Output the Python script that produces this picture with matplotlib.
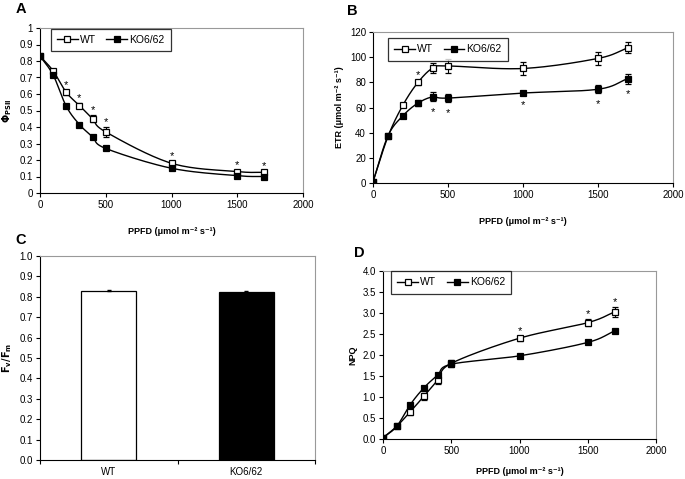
import numpy as np
import matplotlib
matplotlib.use("Agg")
import matplotlib.pyplot as plt

plt.rcParams['font.family'] = ['Liberation Sans', 'DejaVu Sans']

ppfd = [0, 100, 200, 300, 400, 500, 1000, 1500, 1700]

phi_wt = [0.83, 0.74, 0.61, 0.53, 0.45, 0.37, 0.18, 0.13, 0.125]
phi_wt_err = [0.01, 0.01, 0.015, 0.015, 0.02, 0.03, 0.015, 0.01, 0.01]
phi_ko = [0.83, 0.715, 0.525, 0.415, 0.34, 0.27, 0.15, 0.105, 0.10]
phi_ko_err = [0.01, 0.01, 0.01, 0.01, 0.01, 0.01, 0.01, 0.008, 0.008]
phi_star_wt = [200, 300, 400, 500, 1000, 1500, 1700]

etr_wt = [1, 37, 62, 80, 91.5, 93, 91, 99, 107.5]
etr_wt_err = [0.5, 1.5, 1.5, 2, 4, 5.5, 5.5, 5.5, 4.5]
etr_ko = [1, 37.5, 53.5, 63.5, 68.5, 67.5, 71.5, 74.5, 83]
etr_ko_err = [0.5, 1.5, 1.5, 2.5, 3.5, 3.5, 1.5, 3, 4]
etr_star_wt = [300]
etr_star_ko = [400, 500, 1000, 1500, 1700]

fvfm_labels = ['WT', 'KO6/62']
fvfm_values = [0.83, 0.825]
fvfm_err = [0.002, 0.002]

npq_wt = [0.03, 0.3, 0.65, 1.02, 1.4, 1.8, 2.4, 2.77, 3.03]
npq_wt_err = [0.02, 0.03, 0.08, 0.08, 0.1, 0.08, 0.06, 0.08, 0.12]
npq_ko = [0.03, 0.3, 0.82, 1.22, 1.52, 1.78, 1.98, 2.3, 2.58]
npq_ko_err = [0.02, 0.03, 0.04, 0.04, 0.04, 0.05, 0.03, 0.04, 0.04]
npq_star_wt = [1000, 1500, 1700]


def smooth(x, y, n=20):
    x = np.asarray(x, float)
    y = np.asarray(y, float)
    px = np.concatenate([[2 * x[0] - x[1]], x, [2 * x[-1] - x[-2]]])
    py = np.concatenate([[2 * y[0] - y[1]], y, [2 * y[-1] - y[-2]]])
    xs, ys = [], []
    for i in range(1, len(px) - 2):
        p0, p1, p2, p3 = (np.array([px[j], py[j]]) for j in range(i - 1, i + 3))
        c1 = p1 + (p2 - p0) / 6
        c2 = p2 - (p3 - p1) / 6
        t = np.linspace(0, 1, n)[:, None]
        b = ((1 - t) ** 3) * p1 + 3 * ((1 - t) ** 2) * t * c1 + 3 * (1 - t) * t ** 2 * c2 + t ** 3 * p2
        xs.append(b[:, 0]); ys.append(b[:, 1])
    return np.concatenate(xs), np.concatenate(ys)


fig = plt.figure(figsize=(6.85, 4.79), dpi=100)
W, H = 685, 479


def add_ax(l, t, r, b):
    return fig.add_axes([l / W, 1 - b / H, (r - l) / W, (b - t) / H])


def style(ax):
    for s in ['top', 'right']:
        ax.spines[s].set_color('#999999')
    for s in ['left', 'bottom']:
        ax.spines[s].set_color('black')
    for s in ax.spines.values():
        s.set_linewidth(0.8)
    ax.tick_params(direction='out', length=3, width=0.8, labelsize=7, pad=2)


tf = 6.5
xl = 'PPFD (\u03bcmol m\u207b\u00b2 s\u207b\u00b9)'


def series(ax, wt, wte, ko, koe, anchor):
    sx, sy = smooth(ppfd, wt)
    ax.plot(sx, sy, color='black', lw=1.0, zorder=2)
    sx, sy = smooth(ppfd, ko)
    ax.plot(sx, sy, color='black', lw=1.0, zorder=2)
    ax.errorbar(ppfd, wt, yerr=wte, fmt='s', ms=4.5, mfc='white', mec='black', mew=0.9,
                ecolor='black', elinewidth=0.8, capsize=2.5, capthick=0.8, zorder=3)
    ax.errorbar(ppfd, ko, yerr=koe, fmt='s', ms=4.5, mfc='black', mec='black', mew=0.9,
                ecolor='black', elinewidth=0.8, capsize=2.5, capthick=0.8, zorder=3)
    h1, = ax.plot([], [], '-s', color='black', lw=1.0, ms=4, mfc='white', mew=0.9)
    h2, = ax.plot([], [], '-s', color='black', lw=1.0, ms=4, mfc='black', mew=0.9)
    leg = ax.legend([h1, h2], ['WT', 'KO6/62'], ncol=2, loc='upper left', fontsize=7.5,
                    frameon=True, fancybox=False, edgecolor='black', borderpad=0.6,
                    handlelength=2.0, columnspacing=1.0, handletextpad=0.2,
                    borderaxespad=0.0, bbox_to_anchor=anchor)
    leg.get_frame().set_linewidth(0.9)


def stars(ax, xs, yv, ye, up=True, off=3):
    for x in xs:
        i = ppfd.index(x)
        if up:
            ax.annotate('*', (x, yv[i] + ye[i]), xytext=(0, off), textcoords='offset points',
                        ha='center', va='bottom', fontsize=8)
        else:
            ax.annotate('*', (x, yv[i] - ye[i]), xytext=(0, -off), textcoords='offset points',
                        ha='center', va='top', fontsize=8)


# Panel A
axA = add_ax(40, 28, 303, 193)
series(axA, phi_wt, phi_wt_err, phi_ko, phi_ko_err, (0.04, 0.995))
stars(axA, phi_star_wt, phi_wt, phi_wt_err, up=True, off=0)
axA.set_xlim(0, 2000); axA.set_ylim(0, 1)
axA.set_xticks([0, 500, 1000, 1500, 2000])
axA.set_yticks(np.arange(0, 1.01, 0.1))
axA.set_yticklabels(['0', '0.1', '0.2', '0.3', '0.4', '0.5', '0.6', '0.7', '0.8', '0.9', '1'])
axA.set_ylabel(r'$\mathbf{\Phi}_{\mathbf{PSII}}$', fontsize=7, fontweight='bold', labelpad=4)
axA.set_xlabel(xl, fontsize=tf, fontweight='bold', labelpad=12)
style(axA)

# Panel B
axB = add_ax(373, 32, 673, 183)
series(axB, etr_wt, etr_wt_err, etr_ko, etr_ko_err, (0.05, 0.96))
stars(axB, etr_star_wt, etr_wt, etr_wt_err, up=True, off=0)
stars(axB, etr_star_ko, etr_ko, etr_ko_err, up=False, off=4)
axB.set_xlim(0, 2000); axB.set_ylim(0, 120)
axB.set_xticks([0, 500, 1000, 1500, 2000])
axB.set_yticks(np.arange(0, 121, 20))
axB.set_ylabel('ETR (\u03bcmol m\u207b\u00b2 s\u207b\u00b9)', fontsize=tf, fontweight='bold', labelpad=4)
axB.set_xlabel(xl, fontsize=tf, fontweight='bold', labelpad=12)
style(axB)

# Panel C
axC = add_ax(40, 256, 315, 460)
xc = np.arange(len(fvfm_labels))
axC.bar(xc, fvfm_values, width=0.4, color=['white', 'black'], edgecolor='black', linewidth=0.9,
        yerr=fvfm_err, error_kw=dict(elinewidth=0.6, capsize=1.5, ecolor='black'))
axC.set_xlim(-0.5, 1.5); axC.set_ylim(0, 1.0)
axC.set_xticks(xc)
axC.set_xticklabels(fvfm_labels)
axC.set_xticks([-0.5, 0.5, 1.5], minor=True)
axC.set_yticks(np.arange(0, 1.01, 0.1))
axC.set_yticklabels(['%.1f' % v for v in np.arange(0, 1.01, 0.1)])
axC.set_ylabel(r'$\mathbf{F_v/F_m}$', fontsize=7, labelpad=4)
style(axC)
axC.tick_params(axis='x', which='major', length=0, pad=5)
axC.tick_params(axis='x', which='minor', direction='out', length=3, width=0.8)

# Panel D
axD = add_ax(383, 271, 656, 439)
series(axD, npq_wt, npq_wt_err, npq_ko, npq_ko_err, (0.03, 1.0))
stars(axD, npq_star_wt, npq_wt, npq_wt_err, up=True, off=0)
axD.set_xlim(0, 2000); axD.set_ylim(0, 4)
axD.set_xticks([0, 500, 1000, 1500, 2000])
axD.set_yticks(np.arange(0, 4.01, 0.5))
axD.set_yticklabels(['%.1f' % v for v in np.arange(0, 4.01, 0.5)])
axD.set_ylabel('NPQ', fontsize=tf, fontweight='bold', labelpad=4)
axD.set_xlabel(xl, fontsize=tf, fontweight='bold', labelpad=8)
style(axD)

for lab, x, y in [('A', 16, 9), ('B', 347, 11), ('C', 15, 240), ('D', 354, 253)]:
    fig.text(x / W, 1 - y / H, lab, fontsize=10.5, fontweight='bold', ha='left', va='center')

fig.savefig('out.png', dpi=100)
